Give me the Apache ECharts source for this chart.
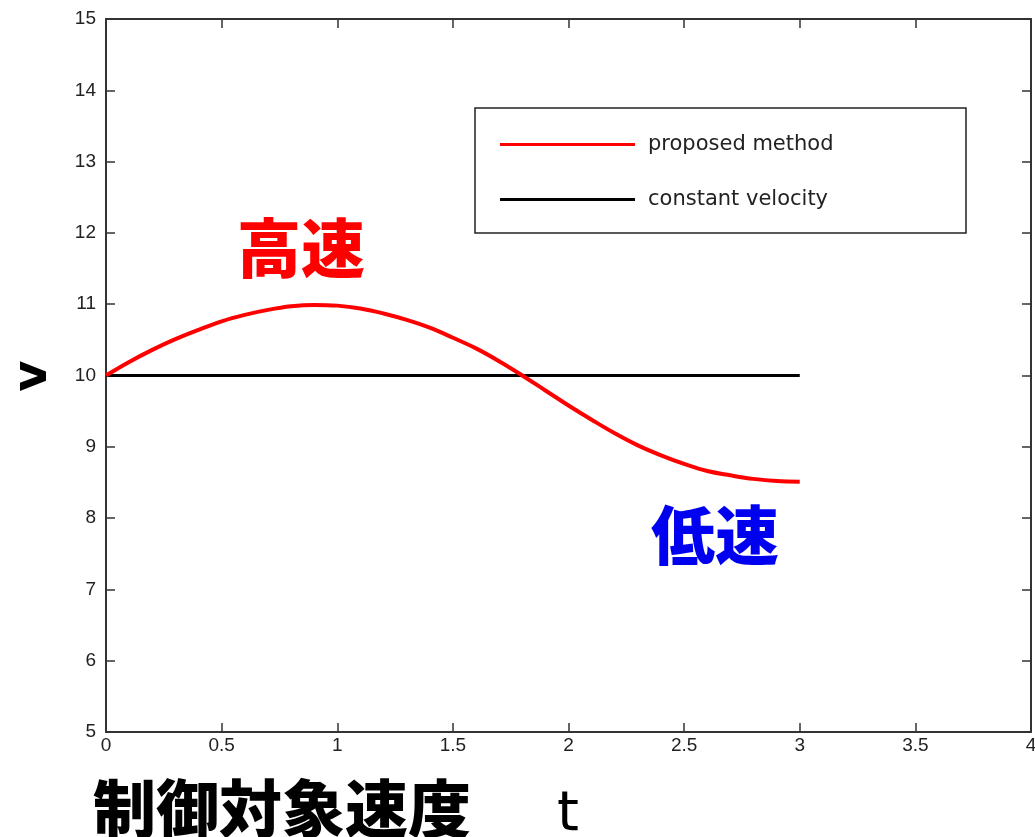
<!DOCTYPE html>
<html>
<head>
<meta charset="utf-8">
<script src="https://cdn.jsdelivr.net/npm/echarts@6/dist/echarts.min.js"></script>
<style>html,body{margin:0;padding:0;background:#fff;overflow:hidden;}#c{width:1035px;height:837px;}</style>
</head>
<body>
<div id="c"></div>
<script>
const tValues = [0,0.1,0.2,0.3,0.4,0.5,0.6,0.7,0.8,0.9,1.0,1.1,1.2,1.3,1.4,1.5,1.6,1.7,1.8,1.9,2.0,2.1,2.2,2.3,2.4,2.5,2.6,2.7,2.8,2.9,3.0];
const proposedV = [10.0,10.19,10.36,10.51,10.64,10.76,10.85,10.92,10.97,10.99,10.98,10.94,10.87,10.78,10.67,10.53,10.38,10.20,10.0,9.79,9.58,9.38,9.19,9.02,8.88,8.76,8.66,8.60,8.55,8.52,8.51];
const constT = [0,3];
const constV = [10,10];
const seriesNames = ['proposed method','constant velocity'];

const chart = echarts.init(document.getElementById('c'));
const axisFont = {fontFamily:'Liberation Sans, Arial, sans-serif', fontSize:19, color:'#222'};
const lineStyleAxis = {color:'#333', width:2};
chart.setOption({
  animation:false,
  backgroundColor:'#fff',
  grid:{left:106, top:19, width:925, height:713, containLabel:false, outerBoundsMode:'none'},
  xAxis:[
    {type:'value', min:0, max:4, interval:0.5, position:'bottom',
     axisLine:{show:true, onZero:false, lineStyle:lineStyleAxis},
     axisTick:{show:true, inside:true, length:9, lineStyle:{color:'#333',width:1.5}},
     axisLabel:Object.assign({margin:4}, axisFont), splitLine:{show:false}},
    {type:'value', min:0, max:4, interval:0.5, position:'top',
     axisLine:{show:true, onZero:false, lineStyle:lineStyleAxis},
     axisTick:{show:true, inside:true, length:9, lineStyle:{color:'#333',width:1.5}},
     axisLabel:{show:false}, splitLine:{show:false}}
  ],
  yAxis:[
    {type:'value', min:5, max:15, interval:1, position:'left',
     axisLine:{show:true, onZero:false, lineStyle:lineStyleAxis},
     axisTick:{show:true, inside:true, length:9, lineStyle:{color:'#333',width:1.5}},
     axisLabel:Object.assign({margin:10}, axisFont), splitLine:{show:false}},
    {type:'value', min:5, max:15, interval:1, position:'right',
     axisLine:{show:true, onZero:false, lineStyle:lineStyleAxis},
     axisTick:{show:true, inside:true, length:9, lineStyle:{color:'#333',width:1.5}},
     axisLabel:{show:false}, splitLine:{show:false}}
  ],
  legend:{
    left:495, top:129, orient:'vertical', itemWidth:135, itemHeight:3, itemGap:34,
    icon:'rect',
    textStyle:{fontFamily:'DejaVu Sans, sans-serif', fontSize:21, color:'#222', lineHeight:20, padding:[0,0,0,8]},
    data:seriesNames
  },
  series:[
    {name:seriesNames[0], type:'line', showSymbol:false, smooth:0.4,
     data:tValues.map((t,i)=>[t,proposedV[i]]),
     lineStyle:{color:'#ff0000', width:4}, itemStyle:{color:'#ff0000'}, z:3},
    {name:seriesNames[1], type:'line', showSymbol:false,
     data:constT.map((t,i)=>[t,constV[i]]),
     lineStyle:{color:'#000', width:3}, itemStyle:{color:'#000'}, z:2}
  ],
  graphic:[
    {type:'rect', shape:{x:475, y:108, width:491, height:125}, style:{fill:'none', stroke:'#222', lineWidth:1.5}, z:10},
    {type:'text', x:301, y:248, style:{text:'高速', fill:'#ff0000', font:'900 64px "Noto Sans CJK JP", sans-serif', align:'center', verticalAlign:'middle'}},
    {type:'text', x:715, y:535, style:{text:'低速', fill:'#0000f0', font:'900 64px "Noto Sans CJK JP", sans-serif', align:'center', verticalAlign:'middle'}},
    {type:'text', x:282, y:808, style:{text:'制御対象速度', fill:'#000', font:'900 63px "Noto Sans CJK JP", sans-serif', align:'center', verticalAlign:'middle'}},
    {type:'text', x:568, y:815, style:{text:'t', fill:'#000', font:'500 56px "DejaVu Sans", sans-serif', align:'center', verticalAlign:'middle'}},
    {type:'text', x:34, y:376, rotation:Math.PI/2, style:{text:'v', fill:'#000', font:'bold 48px "DejaVu Sans", sans-serif', align:'center', verticalAlign:'middle'}}
  ]
});
</script>
</body>
</html>
